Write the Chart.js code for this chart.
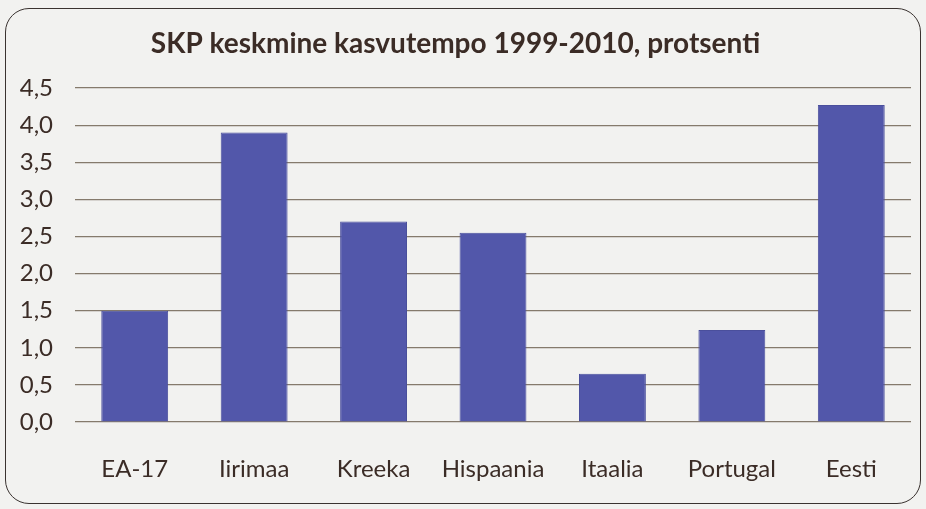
<!DOCTYPE html>
<html>
<head>
<meta charset="utf-8">
<script src="https://cdn.jsdelivr.net/npm/chart.js@4/dist/chart.umd.min.js"></script>
<style>
  html, body { margin: 0; padding: 0; background: #f2f2f0; }
  #wrap { position: relative; width: 926px; height: 509px; }
  #frame {
    position: absolute; left: 5px; top: 8px; width: 914px; height: 494px;
    border: 1.5px solid #3a3330; border-radius: 24px;
  }
  #chart { position: absolute; left: 0; top: 0; }
</style>
</head>
<body>
<div id="wrap">
  <div id="frame"></div>
  <canvas id="chart" width="926" height="509"></canvas>
</div>
<script>
// Data
const countries = ['EA-17', 'Iirimaa', 'Kreeka', 'Hispaania', 'Itaalia', 'Portugal', 'Eesti'];
const growth = [1.5, 3.9, 2.7, 2.55, 0.65, 1.24, 4.27];
const yTicks = [0, 0.5, 1, 1.5, 2, 2.5, 3, 3.5, 4, 4.5];

const textColor = '#3b2c26';
const fontFamily = 'Lato, "Open Sans", sans-serif';

new Chart(document.getElementById('chart'), {
  type: 'bar',
  data: {
    labels: countries,
    datasets: [{
      data: growth,
      backgroundColor: '#5257aa',
      borderColor: '#4a4f9c',
      borderWidth: 1,
      barPercentage: 0.56,
      categoryPercentage: 1
    }]
  },
  options: {
    responsive: false,
    animation: false,
    layout: { padding: { left: 0, right: 15, top: 0, bottom: 12 } },
    plugins: {
      legend: { display: false },
      tooltip: { enabled: false },
      title: {
        display: true,
        text: 'SKP keskmine kasvutempo 1999-2010, protsenti',
        color: textColor,
        font: { family: fontFamily, size: 28, weight: 'bold', lineHeight: 1.2 },
        padding: { top: 27, bottom: 27.4 }
      }
    },
    scales: {
      x: {
        grid: { display: false },
        border: { display: false },
        ticks: {
          color: textColor,
          padding: 26,
          font: { family: fontFamily, size: 24, lineHeight: 1.1 }
        },
        afterFit: (scale) => { scale.height = 75; }
      },
      y: {
        min: 0,
        max: 4.5,
        afterBuildTicks: (scale) => { scale.ticks = yTicks.map(v => ({ value: v })); },
        afterFit: (scale) => { scale.width = 75; },
        grid: { color: '#857a6c', lineWidth: 1.2, drawTicks: false },
        border: { display: false },
        ticks: {
          color: textColor,
          padding: 22,
          font: { family: fontFamily, size: 24 },
          callback: (v) => v.toFixed(1).replace('.', ',')
        }
      }
    }
  }
});
</script>
</body>
</html>
